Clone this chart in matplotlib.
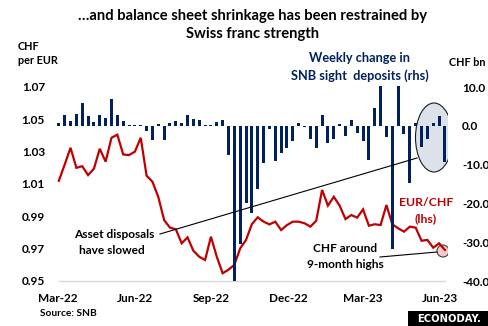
import matplotlib
matplotlib.use("Agg")
import matplotlib.pyplot as plt
import matplotlib.dates as mdates
from matplotlib.patches import Ellipse, Rectangle
from matplotlib.lines import Line2D
import pandas as pd

# ---- data ----
start_date = "2022-03-02"
sight_deposits_chg = [0.8, 2.7, 1.2, 3.0, 6.0, 2.5, 0.9, 2.7, 1.9, 6.8,
                      2.7, 1.2, 0.3, 0.3, 0.3, -1.3, -3.6, 0.4, -3.6, 0.6,
                      1.3, 0.6, 2.7, 1.8, 1.6, 0.3, 0.3, 1.1, 1.4, -7.4,
                      -40.0, -30.5, -20.0, -22.5, -16.2, -9.7, -0.9, -9.2, -7.0, -5.7,
                      -3.8, 0.6, -0.3, -3.3, -5.7, 2.8, -4.4, -3.5, 0.4, -2.6,
                      1.4, -1.8, -4.0, -8.7, 4.5, 10.3, -3.0, -31.7, 10.2, -2.2,
                      -14.7, 0.8, -5.5, -3.4, 0.8, 2.5, -9.4]
eur_chf = [1.012, 1.022, 1.0324, 1.020, 1.021, 1.0155, 1.0195, 1.0318, 1.0238, 1.0386,
           1.0405, 1.0283, 1.0279, 1.030, 1.0386, 1.0151, 1.0114, 1.002, 0.9877, 0.983,
           0.982, 0.9733, 0.977, 0.9687, 0.965, 0.963, 0.9774, 0.965, 0.9548, 0.957,
           0.960, 0.9702, 0.9754, 0.9852, 0.9894, 0.9867, 0.985, 0.9867, 0.9815, 0.9846,
           0.9867, 0.9867, 0.9857, 0.9836, 0.9873, 1.0063, 0.9966, 1.0021, 0.9966, 0.9883,
           0.9908, 0.9892, 0.9943, 0.9842, 0.9851, 0.9846, 0.997, 0.9851, 0.9826, 0.9805,
           0.9836, 0.983, 0.9749, 0.9754, 0.9706, 0.9733, 0.9692]
dates = pd.date_range(start_date, periods=len(eur_chf), freq="7D")
left_ticks = [0.95, 0.97, 0.99, 1.01, 1.03, 1.05, 1.07]
right_ticks = [-40, -30, -20, -10, 0, 10]
xtick_dates = pd.to_datetime(["2022-03-01", "2022-06-01", "2022-09-01",
                              "2022-12-01", "2023-03-01", "2023-06-01"])

# ---- styling ----
W, H = 489, 326
NAVY = "#002060"
RED = "#c00000"
FONT = "Lato"
plt.rcParams["font.family"] = [FONT, "DejaVu Sans"]
plt.rcParams["font.weight"] = "bold"

fig = plt.figure(figsize=(W / 100, H / 100), dpi=100)

def fx(x):
    return x / W

def fy(y):
    return 1 - y / H

ax_l, ax_r, ax_b, ax_t = 56, 448, 281, 84
ax = fig.add_axes([fx(ax_l), fy(ax_b), fx(ax_r) - fx(ax_l), fy(ax_t) - fy(ax_b)])
ax2 = ax.twinx()

px_per_day = 5.85 / 7
x0 = mdates.date2num(pd.Timestamp("2022-03-01"))
xmin = x0 + (ax_l - 58) / px_per_day
xmax = x0 + (ax_r - 58) / px_per_day

ax.set_ylim(0.95, 0.95 + (ax_b - ax_t) / ((281 - 87) / 12) * 0.01)
ax2.set_ylim(-40, -40 + (ax_b - ax_t) / ((281 - 87) / 50))
ax.set_xlim(xmin, xmax)

# EUR/CHF line
ax.plot(dates, eur_chf, color=RED, lw=1.6, zorder=3, solid_joinstyle="miter")
ax.plot([dates[0], dates[-1]], [0.95, 0.95], color="#d9d9d9", lw=1.0, zorder=1, clip_on=False)

# bars
ax2.bar(dates, sight_deposits_chg, width=3.6, color=NAVY, zorder=3, clip_on=False)

for a in (ax, ax2):
    for s in a.spines.values():
        s.set_visible(False)
    a.tick_params(length=0)

ax.set_yticks(left_ticks)
ax.set_yticklabels([f"{v:.2f}" for v in left_ticks], fontsize=8.5, fontweight="bold")
ax.tick_params(axis="y", pad=8)
ax2.set_yticks(right_ticks)
ax2.set_yticklabels([f"{v:.1f}" for v in right_ticks], fontsize=8.5, fontweight="bold")
ax2.tick_params(axis="y", pad=10)
ax.set_xticks(mdates.date2num(xtick_dates))
ax.set_xticklabels([d.strftime("%b-%y") for d in xtick_dates], fontsize=8.5, fontweight="bold")
ax.tick_params(axis="x", pad=9)

# ellipse highlight
ell = Ellipse((fx(434), fy(137.5)), 37 / W, 69 / H, transform=fig.transFigure,
              facecolor="#dce1ea", edgecolor="#1a1a1a", lw=0.8, zorder=1)
ax2.add_artist(ell)
# small circle
circ = Ellipse((fx(443), fy(251)), 12 / W, 12 / H, transform=fig.transFigure,
               facecolor="#f4cccc", edgecolor="#404040", lw=0.8, zorder=2)
ax.add_artist(circ)

# annotation lines
fig.add_artist(Line2D([fx(160), fx(417)], [fy(234), fy(158)], color="black", lw=0.8))
fig.add_artist(Line2D([fx(380), fx(437)], [fy(257), fy(252)], color="black", lw=0.8))

# texts
fig.text(fx(253), fy(16), "\u2026and balance sheet shrinkage has been restrained by",
         ha="center", va="center", fontsize=10.6, fontweight="bold")
fig.text(fx(253), fy(34), "Swiss franc strength", ha="center", va="center",
         fontsize=10.6, fontweight="bold")
fig.text(fx(18), fy(47), "CHF", ha="left", va="center", fontsize=7.8, fontweight="bold")
fig.text(fx(18), fy(60), "per EUR", ha="left", va="center", fontsize=7.8, fontweight="bold")
fig.text(fx(467), fy(63), "CHF bn", ha="center", va="center", fontsize=7.8, fontweight="bold")
fig.text(fx(360), fy(58), "Weekly change in", ha="center", va="center",
         fontsize=9.2, fontweight="bold", color=NAVY)
fig.text(fx(360), fy(76), "SNB sight  deposits (rhs)", ha="center", va="center",
         fontsize=9.2, fontweight="bold", color=NAVY)
fig.text(fx(426), fy(203), "EUR/CHF", ha="center", va="center",
         fontsize=8.8, fontweight="bold", color=RED)
fig.text(fx(426), fy(219), "(lhs)", ha="center", va="center",
         fontsize=8.8, fontweight="bold", color=RED)
fig.text(fx(114), fy(234), "Asset disposals", ha="center", va="center",
         fontsize=8.6, fontweight="bold")
fig.text(fx(112), fy(250), "have slowed", ha="center", va="center",
         fontsize=8.6, fontweight="bold")
fig.text(fx(345), fy(249), "CHF around", ha="center", va="center",
         fontsize=8.6, fontweight="bold")
fig.text(fx(345), fy(264), "9-month highs", ha="center", va="center",
         fontsize=8.6, fontweight="bold")
fig.text(fx(40), fy(314), "Source: SNB", ha="left", va="center",
         fontsize=7.3, fontweight="bold")

# logo
fig.add_artist(Rectangle((fx(408), fy(326)), (489 - 408) / W, 15 / H,
                         transform=fig.transFigure, facecolor="black", edgecolor="none"))
fig.text(fx(449), fy(318.5), "ECONODAY.", ha="center", va="center", color="white",
         fontsize=7.2, fontweight="bold", family="DejaVu Sans")

fig.savefig("out.png", dpi=100)
